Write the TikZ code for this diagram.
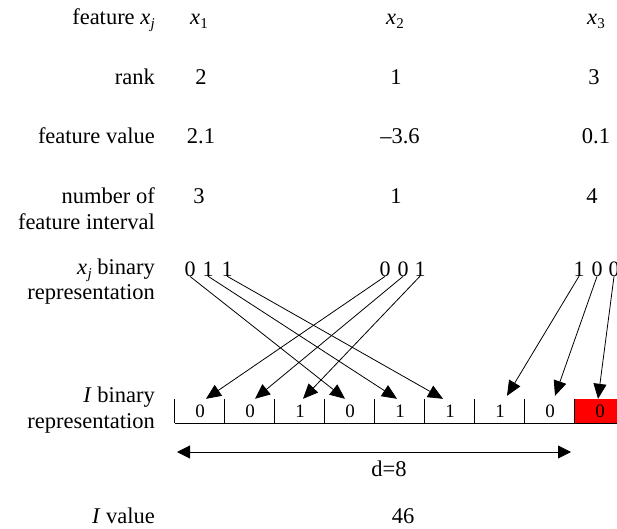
\documentclass[tikz,border=0pt]{standalone}
\usepackage{fontspec}
\setmainfont{Liberation Serif}
\usetikzlibrary{arrows.meta}
\newcommand\xsub[1]{\textit{x}\kern0.3pt\raisebox{-0.2em}{\fontsize{15}{15}\selectfont #1}}
\begin{document}
\begin{tikzpicture}[x=1pt,y=-1pt,
  lbl/.style={anchor=base east, inner sep=0pt, font=\fontsize{22.5}{25}\selectfont},
  val/.style={anchor=base, inner sep=0pt, font=\fontsize{22.5}{25}\selectfont},
  bit/.style={anchor=base, inner sep=0pt, font=\fontsize{22}{25}\selectfont},
  cell/.style={minimum width=50pt, minimum height=24pt, inner sep=0pt, font=\fontsize{19}{20}\selectfont},
  arr/.style={line width=0.8pt, -{Triangle[length=15pt,width=13pt]}},
  dbl/.style={line width=0.8pt, {Triangle[length=13pt,width=13pt]}-{Triangle[length=13pt,width=13pt]}},
  rule/.style={line width=0.8pt}
]
\useasboundingbox (0,0) rectangle (617,528);
\clip (0,0) rectangle (617,528);
% row labels
\node[lbl] (l1) at (155,24) {feature \xsub{\textit{j}}};
\node[lbl] (l2) at (155,84) {rank};
\node[lbl] (l3) at (155,143) {feature value};
\node[lbl] (l4a) at (155,203) {number of};
\node[lbl] (l4b) at (155,229) {feature interval};
\node[lbl] (l5a) at (155,274) {\xsub{\textit{j}} binary};
\node[lbl] (l5b) at (155,299) {representation};
\node[lbl] (l6a) at (155,402) {\textit{I} binary};
\node[lbl] (l6b) at (155,428) {representation};
\node[lbl] (l7) at (155,523) {\textit{I} value};
% feature names
\node[val, anchor=base west] (f1) at (190,24) {\xsub{1}};
\node[val, anchor=base west] (f2) at (386,24) {\xsub{2}};
\node[val, anchor=base west] (f3) at (587,24) {\xsub{3}};
% ranks
\node[val] (r1) at (201,84) {2};
\node[val] (r2) at (396,84) {1};
\node[val] (r3) at (594,84) {3};
% feature values
\node[val] (v1) at (201,143) {2.1};
\node[val] (v2) at (400,143) {\textendash3.6};
\node[val] (v3) at (596,143) {0.1};
% intervals
\node[val] (n1) at (199,203) {3};
\node[val] (n2) at (396,203) {1};
\node[val] (n3) at (592,203) {4};
% binary digits
\node[bit] (b11) at (190,276) {0};
\node[bit] (b12) at (208,276) {1};
\node[bit] (b13) at (227,276) {1};
\node[bit] (b21) at (385,276) {0};
\node[bit] (b22) at (403,276) {0};
\node[bit] (b23) at (420,276) {1};
\node[bit] (b31) at (579,276) {1};
\node[bit] (b32) at (597,276) {0};
\node[bit] (b33) at (614,276) {0};
% cells
\foreach \i/\b in {1/0,2/0,3/1,4/0,5/1,6/1,7/1,8/0}
  \node[cell] (c\i) at (150+50*\i,411) {\b};
\node[cell, fill=red] (c9) at (600,411) {0};
\draw[rule] (c1.south west) -- (c9.south east);
\foreach \i in {1,...,9}
  \draw[rule] (c\i.north west) -- (c\i.south west);
% arrows
\draw[arr] (b11.south) -- ([xshift=-5pt]c4.north);
\draw[arr] (b12.south) -- ([xshift=-3pt]c5.north);
\draw[arr] (b13.south) -- ([xshift=-7pt]c6.north);
\draw[arr] (b21.south) -- ([xshift=6pt]c1.north);
\draw[arr] (b22.south) -- ([xshift=5pt]c2.north);
\draw[arr] (b23.south) -- ([xshift=3pt]c3.north);
\draw[arr] (b31.south) -- ([xshift=7pt,yshift=3pt]c7.north);
\draw[arr] (b32.south) -- ([xshift=5pt,yshift=3pt]c8.north);
\draw[arr] (b33.south) -- ([xshift=-2pt]c9.north);
% width arrow
\coordinate (dl) at (177,452);
\coordinate (dr) at (571,452);
\draw[dbl] (dl) -- (dr);
\node[val] (d) at (389,476) {d=8};
\node[val] (iv) at (403,523) {46};
\end{tikzpicture}
\end{document}
